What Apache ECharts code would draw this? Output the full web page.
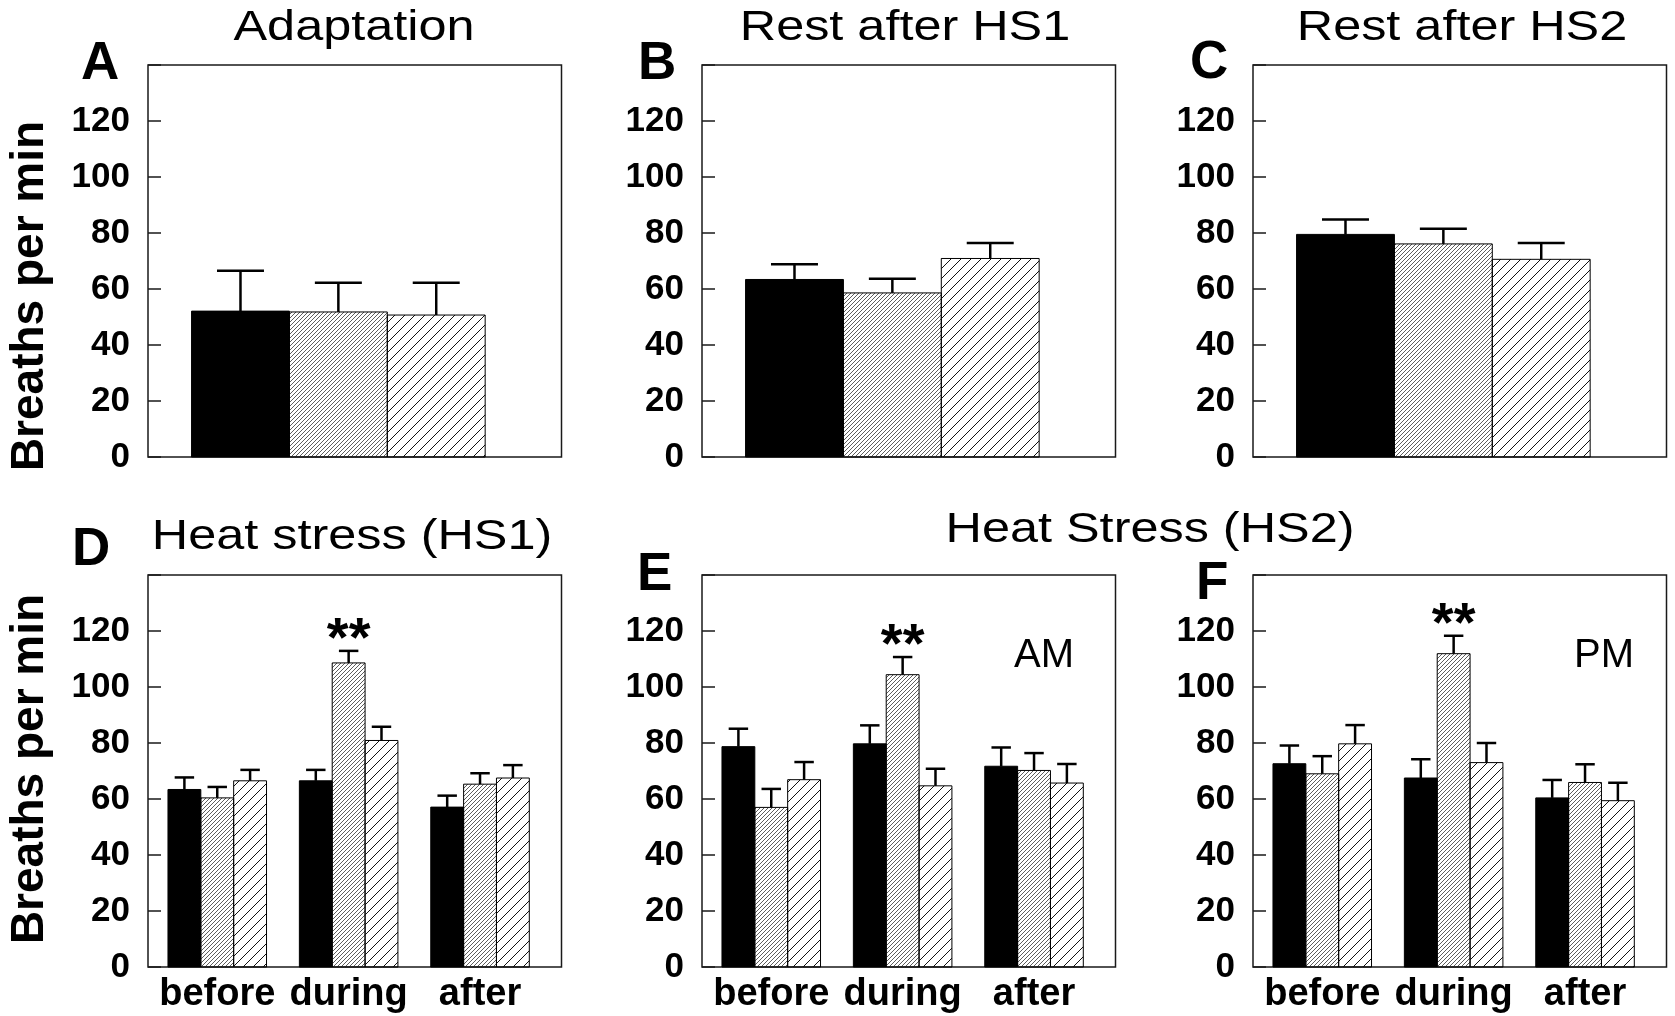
<!DOCTYPE html>
<html>
<head>
<meta charset="utf-8">
<script src="https://cdn.jsdelivr.net/npm/echarts@6/dist/echarts.min.js"></script>
<style>
  html, body { margin: 0; padding: 0; background: #fff; }
  #chart { width: 1675px; height: 1016px; }
</style>
</head>
<body>
<div id="chart"></div>
<script>
// Breathing rate (breaths per min): group means and SEM
const phases = ['before', 'during', 'after'];
const groupNames = ['solid', 'dense hatch', 'sparse hatch'];
const yTickMax = 120;

// Upper row: one value per group
const adaptMean = [52.1, 51.8, 50.7];
const adaptSem  = [14.4, 10.4, 11.5];
const rest1Mean = [63.4, 58.6, 70.9];
const rest1Sem  = [5.4, 5.1, 5.5];
const rest2Mean = [79.5, 76.1, 70.6];
const rest2Sem  = [5.3, 5.4, 5.8];

// Lower row: rows = groups, columns = before / during / after
const hs1Mean   = [[63.4, 66.5, 57.1], [60.4, 108.6, 65.3], [66.5, 80.9, 67.5]];
const hs1Sem    = [[4.3, 3.9, 4.1], [3.9, 4.3, 3.9], [3.9, 4.9, 4.6]];
const hs2amMean = [[78.7, 79.7, 71.7], [57.0, 104.4, 70.2], [66.9, 64.7, 65.7]];
const hs2amSem  = [[6.4, 6.6, 6.7], [6.6, 6.3, 6.2], [6.3, 6.1, 6.8]];
const hs2pmMean = [[72.6, 67.5, 60.4], [69.0, 111.9, 65.9], [79.7, 73.0, 59.4]];
const hs2pmSem  = [[6.5, 6.7, 6.4], [6.3, 6.4, 6.5], [6.7, 7.0, 6.4]];

// Significance marks (dense-hatch group)
const hs1Marks   = ['', '**', ''];
const hs2amMarks = ['', '**', ''];
const hs2pmMarks = ['', '**', ''];

const SANS = '"Liberation Sans", Arial, sans-serif';

// Diagonal hatch tiles
function hatch(period, width, color) {
  const c = document.createElement('canvas');
  c.width = c.height = period;
  const g = c.getContext('2d');
  g.strokeStyle = color;
  g.lineWidth = width;
  g.beginPath();
  g.moveTo(-1, period + 1); g.lineTo(period + 1, -1);
  g.moveTo(-1, 1); g.lineTo(1, -1);
  g.moveTo(period - 1, period + 1); g.lineTo(period + 1, period - 1);
  g.stroke();
  return c;
}
const fills = [
  '#000',
  { image: hatch(4, 0.8, '#333'), repeat: 'repeat' },
  { image: hatch(10, 1, '#111'), repeat: 'repeat' }
];

function barRenderer(fill, barW, capW, marks) {
  return function (params, api) {
    const x = api.value(0), m = api.value(1), e = api.value(2);
    const tl = api.coord([x - barW / 2, m]);
    const br = api.coord([x + barW / 2, 0]);
    const top = api.coord([x, m + e]);
    const capHalf = api.size([capW, 0])[0] / 2;
    const children = [
      { type: 'rect',
        shape: { x: tl[0], y: tl[1], width: br[0] - tl[0], height: br[1] - tl[1] },
        style: { fill: fill, stroke: '#000', lineWidth: 1 } },
      { type: 'line',
        shape: { x1: top[0], y1: tl[1], x2: top[0], y2: top[1] },
        style: { stroke: '#000', lineWidth: 2.5 } },
      { type: 'line',
        shape: { x1: top[0] - capHalf, y1: top[1], x2: top[0] + capHalf, y2: top[1] },
        style: { stroke: '#000', lineWidth: 2.5 } }
    ];
    const mark = marks && marks[params.dataIndex];
    if (mark) {
      children.push({ type: 'text', x: top[0], y: top[1] - 10,
        style: { text: mark, font: 'bold 56px ' + SANS, fill: '#000',
                 align: 'center', verticalAlign: 'middle' } });
    }
    return { type: 'group', children: children };
  };
}

// Panel layout
const lefts = [148, 702, 1253];
const tops = [65, 575];
const PW = 413.5, PH = 392;

const upper = [[adaptMean, adaptSem], [rest1Mean, rest1Sem], [rest2Mean, rest2Sem]];
const lower = [[hs1Mean, hs1Sem, hs1Marks], [hs2amMean, hs2amSem, hs2amMarks], [hs2pmMean, hs2pmSem, hs2pmMarks]];

const grid = [], xAxis = [], yAxis = [], series = [];

function addYAxis(i) {
  yAxis.push({
    gridIndex: i, type: 'value', min: 0, max: 140, interval: 20,
    axisLine: { show: false },
    splitLine: { show: false },
    axisTick: { show: true, inside: true, length: 13, lineStyle: { color: '#1a1a1a', width: 1.5 } },
    axisLabel: { margin: 18, color: '#000', fontFamily: SANS, fontWeight: 'bold', fontSize: 35,
                 formatter: v => (v > yTickMax ? '' : String(v)) }
  });
}

upper.forEach(([mean, sem], p) => {
  const i = grid.length;
  grid.push({ left: lefts[p], top: tops[0], width: PW, height: PH, show: true,
              borderColor: '#1a1a1a', borderWidth: 1.5, backgroundColor: 'transparent' });
  xAxis.push({ gridIndex: i, type: 'value', min: 0.055, max: 4.28, show: false });
  addYAxis(i);
  for (let g = 0; g < 3; g++) {
    series.push({ type: 'custom', name: groupNames[g], xAxisIndex: i, yAxisIndex: i,
      silent: true, clip: false,
      renderItem: barRenderer(fills[g], 1, 0.48, null),
      data: [[g + 1, mean[g], sem[g]]] });
  }
});

lower.forEach(([mean, sem, marks], p) => {
  const i = grid.length;
  grid.push({ left: lefts[p], top: tops[1], width: PW, height: PH, show: true,
              borderColor: '#1a1a1a', borderWidth: 1.5, backgroundColor: 'transparent' });
  xAxis.push({ gridIndex: i, type: 'value', min: 0.473, max: 3.62,
    axisLine: { show: false }, axisTick: { show: false }, splitLine: { show: false },
    axisLabel: { customValues: [1, 2, 3], margin: 9, color: '#000', fontFamily: SANS,
                 fontWeight: 'bold', fontSize: 38,
                 formatter: v => phases[Math.round(v) - 1] } });
  addYAxis(i);
  for (let g = 0; g < 3; g++) {
    series.push({ type: 'custom', name: groupNames[g], xAxisIndex: i, yAxisIndex: i,
      silent: true, clip: false,
      renderItem: barRenderer(fills[g], 0.25, 0.148, g === 1 ? marks : null),
      data: phases.map((_, k) => [k + 1 + (g - 1) * 0.25, mean[g][k], sem[g][k]]) });
  }
});

function title(text, x, y) {
  return { type: 'text', x: x, y: y, scaleX: 1.2,
    style: { text: text, font: '42px ' + SANS, fill: '#000', align: 'center', verticalAlign: 'middle' } };
}
function letter(text, x, y) {
  return { type: 'text', x: x, y: y,
    style: { text: text, font: 'bold 53px ' + SANS, fill: '#000', align: 'left', verticalAlign: 'middle' } };
}
function yName(y) {
  return { type: 'text', x: 30, y: y, rotation: Math.PI / 2,
    style: { text: 'Breaths per min', font: 'bold 46px ' + SANS, fill: '#000',
             align: 'center', verticalAlign: 'middle' } };
}

const graphic = [
  title('Adaptation', 354, 28),
  title('Rest after HS1', 905, 28),
  title('Rest after HS2', 1462, 28),
  title('Heat stress (HS1)', 352, 537),
  title('Heat Stress (HS2)', 1150, 530),
  letter('A', 81, 64),
  letter('B', 638, 64),
  letter('C', 1190, 63),
  letter('D', 72, 550),
  letter('E', 637, 575),
  letter('F', 1196, 584),
  yName(296),
  yName(769),
  { type: 'text', x: 1014, y: 656,
    style: { text: 'AM', font: '40px ' + SANS, fill: '#000', align: 'left', verticalAlign: 'middle' } },
  { type: 'text', x: 1574, y: 656,
    style: { text: 'PM', font: '40px ' + SANS, fill: '#000', align: 'left', verticalAlign: 'middle' } }
];

const chart = echarts.init(document.getElementById('chart'), null, { renderer: 'canvas' });
chart.setOption({
  backgroundColor: '#fff',
  animation: false,
  grid: grid,
  xAxis: xAxis,
  yAxis: yAxis,
  series: series,
  graphic: graphic
});
</script>
</body>
</html>
